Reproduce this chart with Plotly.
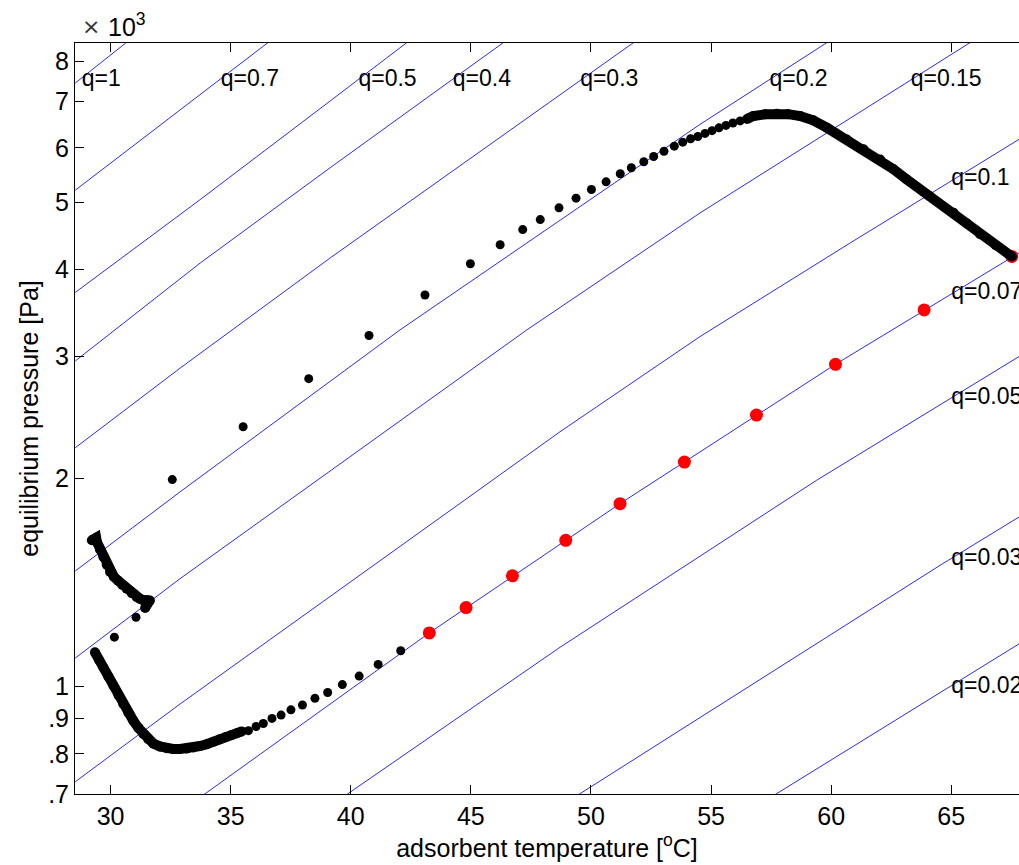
import numpy as np
import plotly.graph_objects as go

# ---------------- isosteres: (adsorbent temperature [°C], equilibrium pressure [Pa]) ----------------
T_q1 = [28.53, 30.67];                          p_q1 = [7440, 8520]
T_q07 = [28.53, 36.57];                         p_q07 = [5210, 8520]
T_q05 = [28.53, 33.73, 39.14, 42.33];           p_q05 = [3709, 5050, 7009, 8510]
T_q04 = [28.53, 33.73, 39.14, 46.35];           p_q04 = [2953, 4090, 5614, 8510]
T_q03 = [28.53, 32.89, 39.14, 51.77];           p_q03 = [2213, 2883, 4159, 8510]
T_q02 = [28.53, 32.89, 42.05, 54.54, 59.82];    p_q02 = [1469, 1911, 3275, 6485, 8510]
T_q015 = [28.53, 32.89, 47.33, 54.54, 65.78];   p_q015 = [1100, 1432, 3275, 4831, 8510]
T_q01 = [28.53, 32.89, 48.71, 54.54, 60.79, 67.82]; p_q01 = [729, 944, 2334, 3203, 4372, 6170]
T_q007 = [33.82, 43.27, 51.21, 60.18, 67.82];   p_q007 = [696, 1196, 1838, 2921, 4229]
T_q005 = [39.76, 48.71, 59.40, 67.82];          p_q005 = [696, 1140, 1987, 2997]
T_q003 = [49.41, 64.53, 67.82];                 p_q003 = [696, 1497, 1758]
T_q002 = [57.59, 64.53, 67.82];                 p_q002 = [696, 981, 1153]

iso_labels = ["q=1", "q=0.7", "q=0.5", "q=0.4", "q=0.3", "q=0.2", "q=0.15",
              "q=0.1", "q=0.07", "q=0.05", "q=0.03", "q=0.02"]
label_T = [28.80, 34.59, 40.32, 44.25, 49.55, 57.43, 63.31, 65.0, 65.0, 65.0, 65.0, 65.0]
label_p = [7500, 7500, 7500, 7500, 7500, 7500, 7500, 5400, 3701, 2608, 1530, 998]

# ---------------- cycle (black dots) ----------------
# upper-left dense segment (with small hook)
ul_T = [29.22, 29.40, 29.43, 29.56, 29.70, 29.84, 29.98, 30.14, 30.31, 30.49, 30.67, 30.88,
        31.09, 31.22, 31.35, 31.50, 31.64, 31.52, 31.44]
ul_p = [1627, 1641, 1618, 1578, 1539, 1500, 1464, 1441, 1423, 1403, 1385, 1365,
        1347, 1340, 1334, 1333, 1332, 1314, 1299]
# sparse transition dots
tr_T = [31.06, 30.16]
tr_p = [1260, 1179]
# lower dense segment
ld_T = [29.35, 29.52, 29.70, 29.91, 30.12, 30.33, 30.53, 30.74, 30.95, 31.16, 31.37, 31.57,
        31.78, 32.05, 32.34, 32.60, 32.89, 33.17, 33.45, 33.72, 34.00, 34.28, 34.56, 34.80,
        35.05, 35.26, 35.46]
ld_p = [1121, 1093, 1066, 1034, 1003, 972, 944, 917, 893, 872, 854, 840,
        828, 820, 815, 813, 813, 814, 817, 821, 826, 833, 840, 846,
        852, 857, 862]
# lower sparse segment
ls_T = [35.74, 36.06, 36.36, 36.72, 37.10, 37.51, 37.99, 38.51, 39.04, 39.65, 40.35, 41.14, 42.08]
ls_p = [864, 876, 885, 900, 910, 926, 941, 962, 981, 1007, 1036, 1077, 1127]
# upper sparse segment
us_T = [32.57, 35.52, 38.25, 40.76, 43.09, 44.98, 46.22, 47.16, 47.89, 48.67, 49.38, 50.02,
        50.63, 51.22, 51.68, 52.20, 52.61, 53.04, 53.47, 53.82, 54.15, 54.45, 54.75, 55.04,
        55.33, 55.62, 55.91, 56.21]
us_p = [1991, 2373, 2785, 3214, 3677, 4080, 4347, 4571, 4726, 4914, 5074, 5223,
        5358, 5503, 5614, 5727, 5829, 5932, 6032, 6113, 6183, 6230, 6293, 6351,
        6411, 6463, 6516, 6560]
# upper dense segment
ud_T = [56.50, 56.76, 57.25, 57.74, 58.21, 58.71, 59.25, 59.82, 60.65, 61.35, 62.04, 62.60,
        63.15, 64.10, 65.09, 65.65, 66.20, 66.85, 67.52]
ud_p = [6604, 6667, 6705, 6720, 6710, 6667, 6573, 6414, 6168, 5970, 5771, 5585,
        5400, 5110, 4836, 4665, 4501, 4340, 4181]

# ---------------- isosteric heating (red dots) ----------------
red_T = [43.27, 44.80, 46.73, 48.95, 51.21, 53.89, 56.89, 60.18, 63.87, 67.52]
red_p = [1196, 1301, 1446, 1627, 1838, 2110, 2467, 2921, 3500, 4181]

# ---------------- axes ----------------
x_ticks = [30, 35, 40, 45, 50, 55, 60, 65]
y_ticks = [700, 800, 900, 1000, 2000, 3000, 4000, 5000, 6000, 7000, 8000]
y_ticktext = [".7", ".8", ".9", "1", "2", "3", "4", "5", "6", "7", "8"]
x_range = [28.52, 67.82]
y_range = [700, 8500]

FONT = "Liberation Sans, Arial, Helvetica, sans-serif"

fig = go.Figure()

iso_T = [T_q1, T_q07, T_q05, T_q04, T_q03, T_q02, T_q015, T_q01, T_q007, T_q005, T_q003, T_q002]
iso_p = [p_q1, p_q07, p_q05, p_q04, p_q03, p_q02, p_q015, p_q01, p_q007, p_q005, p_q003, p_q002]
for T, p in zip(iso_T, iso_p):
    fig.add_trace(go.Scatter(x=T, y=p, mode="lines",
                             line=dict(color="#2a2aff", width=1),
                             hoverinfo="skip", showlegend=False))

fig.add_trace(go.Scatter(x=label_T, y=label_p, mode="text", text=iso_labels,
                         textposition="middle right",
                         textfont=dict(family=FONT, size=23, color="black"),
                         hoverinfo="skip", showlegend=False))

fig.add_trace(go.Scatter(x=red_T, y=red_p, mode="markers",
                         marker=dict(color="#ff0000", size=13, line=dict(width=0)),
                         showlegend=False))

for T, p in [(ul_T, ul_p), (ld_T, ld_p), (ud_T, ud_p)]:
    fig.add_trace(go.Scatter(x=T, y=p, mode="lines+markers",
                             line=dict(color="black", width=10),
                             marker=dict(color="black", size=10, line=dict(width=0)),
                             showlegend=False))
for T, p in [(tr_T, tr_p), (ls_T, ls_p), (us_T, us_p)]:
    fig.add_trace(go.Scatter(x=T, y=p, mode="markers",
                             marker=dict(color="black", size=9, line=dict(width=0)),
                             showlegend=False))

fig.update_layout(
    width=1019, height=865,
    margin=dict(l=75, r=0, t=43, b=71),
    paper_bgcolor="white", plot_bgcolor="white",
    font=dict(family=FONT, size=25, color="black"),
    xaxis=dict(range=x_range, tickvals=x_ticks, ticks="inside", ticklen=9,
               tickcolor="black", showline=True, linecolor="black", linewidth=1,
               mirror="ticks", showgrid=False, zeroline=False,
               tickfont=dict(family=FONT, size=25),
               title=dict(text="adsorbent temperature [<sup>o</sup>C]",
                          font=dict(family=FONT, size=25), standoff=6)),
    yaxis=dict(type="log", range=[np.log10(y_range[0]), np.log10(y_range[1])],
               tickvals=y_ticks, ticktext=y_ticktext, ticks="inside", ticklen=9,
               tickcolor="black", showline=True, linecolor="black", linewidth=1,
               showgrid=False, zeroline=False,
               tickfont=dict(family=FONT, size=25),
               title=dict(text="equilibrium pressure [Pa]",
                          font=dict(family=FONT, size=25), standoff=2)),
    yaxis2=dict(type="log", overlaying="y", side="right",
                range=[np.log10(y_range[0]), np.log10(y_range[1])],
                tickvals=y_ticks, showticklabels=False, ticks="inside", ticklen=5,
                tickcolor="black", showline=False, showgrid=False, zeroline=False),
    annotations=[
        dict(xref="paper", yref="paper", x=0.005, y=1.022,
             xanchor="left", yanchor="middle", showarrow=False,
             text="×", font=dict(family="DejaVu Sans, sans-serif", size=22, color="#333333")),
        dict(xref="paper", yref="paper", x=0.033, y=1.024,
             xanchor="left", yanchor="middle", showarrow=False,
             text="10<sup>3</sup>", font=dict(family=FONT, size=25, color="black")),
    ],
)

fig.write_html("out.html")
